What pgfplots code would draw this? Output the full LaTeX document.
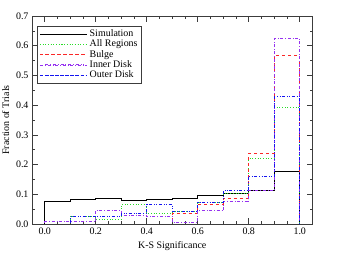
\documentclass[border=0pt]{standalone}
\usepackage{pgfplots}
\pgfplotsset{compat=1.18}
\usepackage{fontspec}
\setmainfont{Liberation Serif}
\definecolor{cgreen}{RGB}{40,220,40}
\definecolor{cred}{RGB}{250,40,40}
\definecolor{cpurple}{RGB}{150,50,240}
\definecolor{cblue}{RGB}{20,20,240}
\definecolor{caxis}{RGB}{60,60,60}
\begin{document}
\begin{tikzpicture}
\useasboundingbox (-32bp,-48bp) rectangle (318bp,224bp);
\begin{axis}[
  at={(0,0)}, anchor=south west,
  width=280.5bp, height=208bp, scale only axis,
  xmin=-0.05, xmax=1.05, ymin=0, ymax=0.7,
  xtick={0,0.2,...,1.0}, ytick={0,0.1,...,0.7},
  minor x tick num=3, minor y tick num=1,
  major tick length=6bp, minor tick length=3bp,
  tick align=inside,
  axis line style={caxis, line width=0.8pt},
  every tick/.style={caxis, line width=0.6pt},
  /pgf/number format/assume math mode=true,
  xticklabel style={/pgf/number format/.cd, fixed, fixed zerofill, precision=1},
  yticklabel style={/pgf/number format/.cd, fixed, fixed zerofill, precision=1},
  xlabel={K-S Significance}, ylabel={Fraction of Trials},
  tick label style={font=\fontsize{10}{12}\selectfont},
  label style={font=\fontsize{10}{12}\selectfont},
  legend style={at={(0.019,0.952)}, anchor=north west, draw=caxis, line width=0.6pt,
    font=\fontsize{10}{10}\selectfont, inner xsep=2pt, inner ysep=3.5pt, row sep=1.25pt,
    nodes={inner xsep=2pt, inner ysep=0pt, text height=7pt, text depth=2pt}},
  legend cell align=left,
  legend image code/.code={\path (0bp,0bp) -- (47.4bp,0bp); \draw[#1, line width=0.95pt] (5.4bp,0bp) -- (44.4bp,0bp);},
  const plot,
]
\addplot[black, line width=0.7pt] coordinates {(-0.05,0) (0,0.076) (0.1,0.083) (0.2,0.087) (0.3,0.080) (0.4,0.083) (0.5,0.085) (0.6,0.095) (0.7,0.102) (0.8,0.113) (0.9,0.177) (1.0,0) (1.05,0)};
\addlegendentry{Simulation}
\addplot[cgreen, dotted, line width=0.7pt] coordinates {(-0.05,0) (0,0) (0.1,0.027) (0.2,0.017) (0.3,0.066) (0.4,0.036) (0.5,0.044) (0.6,0.073) (0.7,0.104) (0.8,0.220) (0.9,0.391) (1.0,0) (1.05,0)};
\addlegendentry{All Regions}
\addplot[cred, dashed, line width=0.7pt] coordinates {(-0.05,0) (0,0) (0.1,0) (0.2,0) (0.3,0) (0.4,0) (0.5,0.036) (0.6,0.065) (0.7,0.085) (0.8,0.238) (0.9,0.566) (1.0,0) (1.05,0)};
\addlegendentry{Bulge}
\addplot[cpurple, dash dot, line width=0.7pt] coordinates {(-0.05,0) (0,0.008) (0.1,0.008) (0.2,0.046) (0.3,0.028) (0.4,0.026) (0.5,0.007) (0.6,0.045) (0.7,0.075) (0.8,0.113) (0.9,0.624) (1.0,0) (1.05,0)};
\addlegendentry{Inner Disk}
\addplot[cblue, dash dot dot, line width=0.7pt] coordinates {(-0.05,0) (0,0) (0.1,0.026) (0.2,0.027) (0.3,0.036) (0.4,0.066) (0.5,0.044) (0.6,0.073) (0.7,0.113) (0.8,0.161) (0.9,0.429) (1.0,0) (1.05,0)};
\addlegendentry{Outer Disk}
\end{axis}
\end{tikzpicture}
\end{document}
